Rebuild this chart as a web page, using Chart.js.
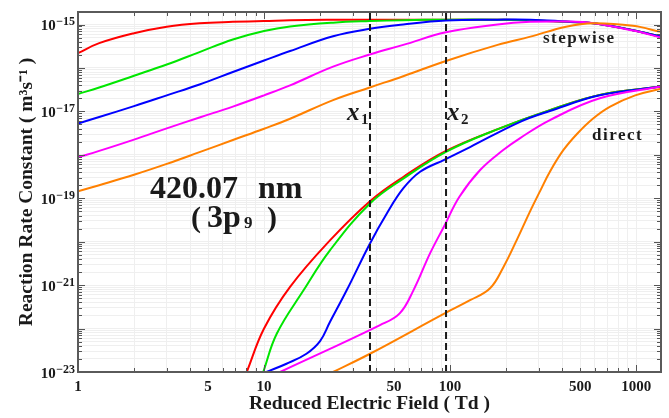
<!DOCTYPE html>
<html>
<head>
<meta charset="utf-8">
<script src="https://cdn.jsdelivr.net/npm/chart.js@4"></script>
<style>
  html, body { margin: 0; padding: 0; background: #fff; }
  #grafico { display: block; }
</style>
</head>
<body>
<canvas id="grafico" width="669" height="418"></canvas>
<script>
// Campo elétrico reduzido (Td) - amostras das curvas "stepwise"
const stepX = [1, 1.3, 2, 3, 4.5, 6.8, 10, 13.8, 23.5, 37, 56, 95, 180, 270, 420, 590, 960, 1360];
const stepRed = [2.19e-16, 3.72e-16, 6.31e-16, 8.91e-16, 1.07e-15, 1.15e-15, 1.20e-15, 1.26e-15, 1.29e-15, 1.29e-15, 1.29e-15, 1.29e-15, 1.29e-15, 1.26e-15, 1.15e-15, 1.07e-15, 7.41e-16, 5.25e-16];
const stepGreen = [2.51e-17, 3.55e-17, 6.61e-17, 1.20e-16, 2.32e-16, 4.51e-16, 7.08e-16, 9.00e-16, 1.10e-15, 1.20e-15, 1.26e-15, 1.29e-15, 1.29e-15, 1.26e-15, 1.15e-15, 1.07e-15, 7.41e-16, 5.25e-16];
const stepBlue = [5.25e-18, 7.41e-18, 1.32e-17, 2.34e-17, 4.17e-17, 8.05e-17, 1.48e-16, 2.45e-16, 5.37e-16, 7.94e-16, 1.00e-15, 1.23e-15, 1.29e-15, 1.29e-15, 1.17e-15, 1.07e-15, 7.41e-16, 5.25e-16];
const stepMagenta = [8.71e-19, 1.23e-18, 2.24e-18, 4.07e-18, 7.24e-18, 1.29e-17, 2.34e-17, 3.98e-17, 1.07e-16, 2.04e-16, 3.39e-16, 6.61e-16, 1.00e-15, 1.15e-15, 1.17e-15, 1.07e-15, 7.24e-16, 5.01e-16];
const stepOrange = [1.45e-19, 2.00e-19, 3.47e-19, 6.17e-19, 1.15e-18, 2.19e-18, 3.98e-18, 6.76e-18, 1.82e-17, 3.55e-17, 6.46e-17, 1.45e-16, 3.39e-16, 5.25e-16, 8.91e-16, 1.07e-15, 9.33e-16, 6.76e-16];

// Curvas "direct" (cada uma começa onde sai do eixo inferior)
const directRedX = [8.07, 10, 13.8, 22.6, 37.1, 56, 95, 185, 344, 638, 1360];
const directRed = [1e-23, 1e-22, 9.12e-22, 1.07e-20, 8.57e-20, 3.09e-19, 1.23e-18, 4.07e-18, 1.07e-17, 2.40e-17, 3.72e-17];
const directGreenX = [9.9, 11.7, 16.3, 22.6, 37.1, 56, 95, 185, 344, 638, 1360];
const directGreen = [1e-23, 7.59e-23, 7.59e-22, 6.31e-21, 7.59e-20, 2.82e-19, 1.17e-18, 4.07e-18, 1.07e-17, 2.40e-17, 3.72e-17];
const directBlueX = [10.3, 13.2, 16.9, 20, 22.6, 27.8, 37.1, 45.7, 56.1, 69, 93.5, 128, 238, 344, 638, 1360];
const directBlue = [1e-23, 1.55e-23, 2.63e-23, 5.13e-23, 1.41e-22, 7.59e-22, 9.12e-21, 4.47e-20, 1.70e-19, 4.07e-19, 7.76e-19, 1.51e-18, 5.75e-18, 1.02e-17, 2.34e-17, 3.72e-17];
const directMagentaX = [12.2, 42, 53.6, 63.5, 78, 93.5, 112, 145, 193, 238, 344, 638, 1360];
const directMagenta = [1e-23, 1.20e-22, 2.24e-22, 7.59e-22, 5.37e-21, 2.40e-20, 1.07e-19, 4.47e-19, 1.29e-18, 2.43e-18, 6.31e-18, 2.00e-17, 3.72e-17];
const directOrangeX = [23.5, 37.1, 93.5, 128, 164, 193, 229, 269, 305, 345, 405, 482, 587, 725, 988, 1360];
const directOrange = [1e-23, 2.63e-23, 2.24e-22, 4.49e-22, 8.49e-22, 2.56e-21, 1.13e-20, 4.99e-20, 1.48e-19, 4.17e-19, 1.26e-18, 3.06e-18, 6.86e-18, 1.29e-17, 2.34e-17, 3.31e-17];

// Linhas tracejadas x1 e x2
const markerX = [37.1, 95.1];
const markerNomes = ['1', '2'];

// Rótulos dos eixos
const xTickLabels = [1, 5, 10, 50, 100, 500, 1000];
const yTickLabels = [1e-23, 1e-21, 1e-19, 1e-17, 1e-15];
const yTickExpoentes = ['\u221223', '\u221221', '\u221219', '\u221217', '\u221215'];

const xMin = 1, xMax = 1360;
const yMin = 1e-23, yMax = 1.94e-15;

const fonteSerif = '"Liberation Serif", "Times New Roman", serif';
const corTexto = '#1a1a1a';

function pontos(xs, ys) {
    return xs.map(function(x, i) { return { x: x, y: ys[i] }; });
}

function curva(rotulo, xs, ys, cor, ordem) {
    return {
        label: rotulo,
        data: pontos(xs, ys),
        borderColor: cor,
        backgroundColor: cor,
        borderWidth: 2,
        pointRadius: 0,
        fill: false,
        tension: 0.4,
        order: ordem
    };
}

function tracejada(valor) {
    return {
        label: 'marker',
        data: [{ x: valor, y: yMin }, { x: valor, y: yMax }],
        borderColor: '#1a1a1a',
        borderWidth: 2,
        borderDash: [7, 4],
        pointRadius: 0,
        fill: false,
        order: 0
    };
}

function ehDecada(v) {
    const l = Math.log10(v);
    return Math.abs(l - Math.round(l)) < 1e-9;
}

// ticks de grade: 1..9 x 10^n dentro do intervalo
function ticksLog(min, max) {
    const lista = [];
    for (let e = Math.floor(Math.log10(min)); e <= Math.ceil(Math.log10(max)); e++) {
        for (let m = 1; m <= 9; m++) {
            const v = m * Math.pow(10, e);
            if (v >= min * 0.999 && v <= max) lista.push({ value: v });
        }
    }
    return lista;
}

function texto(ctx, s, x, y, fonte, espaco) {
    ctx.font = fonte;
    ctx.textAlign = 'left';
    ctx.textBaseline = 'alphabetic';
    ctx.letterSpacing = espaco || '0px';
    ctx.fillText(s, x, y);
    ctx.letterSpacing = '0px';
}

const moldura = {
    id: 'moldura',
    afterDraw(chart) {
        const ctx = chart.ctx;
        const a = chart.chartArea;
        const sx = chart.scales.x;
        const sy = chart.scales.y;
        ctx.save();

        // marcas internas nos quatro lados
        ctx.strokeStyle = '#555';
        ctx.lineWidth = 1;
        ctx.beginPath();
        sx.ticks.forEach(function(t) {
            const p = Math.round(sx.getPixelForValue(t.value)) + 0.5;
            const len = ehDecada(t.value) ? 7 : 4;
            ctx.moveTo(p, a.bottom); ctx.lineTo(p, a.bottom - len);
            ctx.moveTo(p, a.top); ctx.lineTo(p, a.top + len);
        });
        sy.ticks.forEach(function(t) {
            const p = Math.round(sy.getPixelForValue(t.value)) + 0.5;
            const len = ehDecada(t.value) ? 7 : 4;
            ctx.moveTo(a.left, p); ctx.lineTo(a.left + len, p);
            ctx.moveTo(a.right, p); ctx.lineTo(a.right - len, p);
        });
        ctx.stroke();

        // moldura
        ctx.strokeStyle = '#5a5a5a';
        ctx.lineWidth = 2;
        ctx.strokeRect(a.left, a.top, a.right - a.left, a.bottom - a.top);

        // rótulos do eixo y: 10 com expoente
        ctx.fillStyle = corTexto;
        yTickLabels.forEach(function(v, i) {
            const py = sy.getPixelForValue(v);
            ctx.font = 'bold 12px ' + fonteSerif;
            const wExp = ctx.measureText(yTickExpoentes[i]).width;
            const xExp = a.left - 3 - wExp;
            texto(ctx, yTickExpoentes[i], xExp, py + 0.5, 'bold 12px ' + fonteSerif);
            ctx.font = 'bold 15px ' + fonteSerif;
            const wBase = ctx.measureText('10').width;
            texto(ctx, '10', xExp - wBase - 0.5, py + 5.5, 'bold 15px ' + fonteSerif);
        });

        // anotações
        texto(ctx, '420.07', 150, 198, 'bold 32px ' + fonteSerif);
        texto(ctx, 'nm', 258, 198, 'bold 32px ' + fonteSerif);
        texto(ctx, '(', 191, 227, 'bold 30px ' + fonteSerif);
        texto(ctx, '3p', 207, 227, 'bold 32px ' + fonteSerif);
        texto(ctx, '9', 244, 228, 'bold 17px ' + fonteSerif);
        texto(ctx, ')', 267, 227, 'bold 30px ' + fonteSerif);

        markerX.forEach(function(v, i) {
            const lx = sx.getPixelForValue(v);
            const base = i === 0 ? lx - 23 : lx + 1;
            texto(ctx, 'x', base, 120, 'italic bold 25px ' + fonteSerif);
            texto(ctx, markerNomes[i], base + 14, 124, 'bold 15px ' + fonteSerif);
        });

        texto(ctx, 'stepwise', 543, 43, 'bold 17px ' + fonteSerif, '1.5px');
        texto(ctx, 'direct', 592, 140, 'bold 17px ' + fonteSerif, '1.5px');

        ctx.restore();
    }
};

const ctxGrafico = document.getElementById('grafico').getContext('2d');

new Chart(ctxGrafico, {
    type: 'line',
    data: {
        datasets: [
            curva('stepwise red', stepX, stepRed, '#ff0000', 9),
            curva('stepwise green', stepX, stepGreen, '#00e600', 8),
            curva('stepwise blue', stepX, stepBlue, '#0000ff', 7),
            curva('stepwise magenta', stepX, stepMagenta, '#ff00ff', 6),
            curva('stepwise orange', stepX, stepOrange, '#ff8000', 5),
            curva('direct red', directRedX, directRed, '#ff0000', 9),
            curva('direct green', directGreenX, directGreen, '#00e600', 8),
            curva('direct blue', directBlueX, directBlue, '#0000ff', 7),
            curva('direct magenta', directMagentaX, directMagenta, '#ff00ff', 6),
            curva('direct orange', directOrangeX, directOrange, '#ff8000', 5),
            tracejada(markerX[0]),
            tracejada(markerX[1])
        ]
    },
    options: {
        responsive: false,
        animation: false,
        devicePixelRatio: 1,
        layout: { padding: { left: 0, right: 8, top: 12, bottom: 0 } },
        plugins: {
            legend: { display: false },
            tooltip: { enabled: false }
        },
        scales: {
            x: {
                type: 'logarithmic',
                min: xMin,
                max: xMax,
                afterBuildTicks: function(escala) { escala.ticks = ticksLog(xMin, xMax); },
                afterFit: function(escala) { escala.height = 46; },
                border: { display: false },
                grid: { color: '#efefef', drawTicks: false },
                ticks: {
                    autoSkip: false,
                    maxRotation: 0,
                    minRotation: 0,
                    padding: 6,
                    color: corTexto,
                    font: { family: fonteSerif, size: 15, weight: 'bold' },
                    callback: function(valor) {
                        return xTickLabels.indexOf(valor) >= 0 ? String(valor) : '';
                    }
                },
                title: {
                    display: true,
                    text: 'Reduced Electric Field ( Td )',
                    color: corTexto,
                    font: { family: fonteSerif, size: 19.5, weight: 'bold' },
                    padding: { top: 0, bottom: 2 }
                }
            },
            y: {
                type: 'logarithmic',
                min: yMin,
                max: yMax,
                afterBuildTicks: function(escala) { escala.ticks = ticksLog(yMin, yMax); },
                afterFit: function(escala) { escala.width = 78; },
                border: { display: false },
                grid: { color: '#efefef', drawTicks: false },
                ticks: { display: false },
                title: {
                    display: true,
                    text: 'Reaction Rate Constant ( m\u00B3s\u207B\u00B9 )',
                    color: corTexto,
                    font: { family: fonteSerif, size: 19.5, weight: 'bold' },
                    padding: { top: 15, bottom: 0 }
                }
            }
        }
    },
    plugins: [moldura]
});
</script>
</body>
</html>
